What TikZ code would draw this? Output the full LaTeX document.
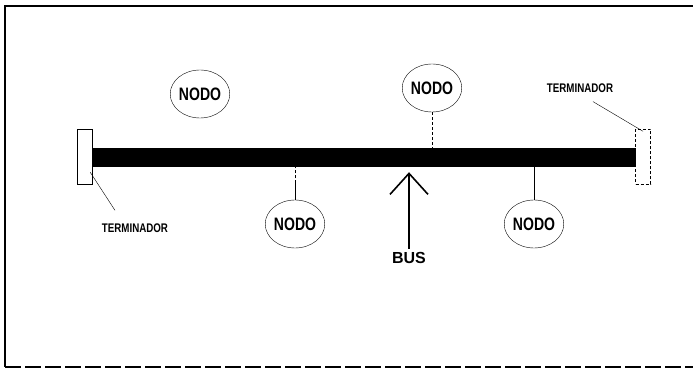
\documentclass[tikz,border=0pt]{standalone}
\usepackage{fontspec}
\setmainfont{Liberation Sans}
\newfontfamily\nodofont{Liberation Sans}[FakeStretch=0.78]
\usepackage{tikz}
\usetikzlibrary{shapes.geometric,arrows.meta,positioning,calc}

\begin{document}
\begin{tikzpicture}[
    x=1pt, y=-1pt,
    nodo/.style={ellipse, draw, thin, minimum width=56pt, minimum height=48pt, inner sep=0pt,
                 font=\nodofont\bfseries\fontsize{18}{18}\selectfont},
    terminador/.style={draw, thin, minimum width=15pt, minimum height=55pt, inner sep=0pt},
    rotulo/.style={font=\nodofont\bfseries\fontsize{12.5}{13}\selectfont, inner sep=1pt},
    enlace/.style={thin},
]
  \useasboundingbox (0,0) rectangle (693,371);

  % marco
  \draw[line width=1.2pt] (693,6) -- (5,6) -- (5,367);
  \draw[line width=1.2pt, dash pattern=on 16pt off 4pt] (5,367) -- (693,367);

  % bus y terminadores
  \node[fill=black, minimum width=544pt, minimum height=19pt, inner sep=0pt] (bus) at (364,157.5) {};
  \node[terminador] (term1) at (84.5,156.5) {};
  \node[terminador, densely dashed] (term2) at (643,157) {};

  % nodos
  \node[nodo] (nodo1) at (200,94) {NODO};
  \node[nodo] (nodo2) at (432,88) {NODO};
  \node[nodo] (nodo3) at (295,224) {NODO};
  \node[nodo] (nodo4) at (534,224) {NODO};

  % conexiones al bus
  \draw[enlace, densely dashed] (nodo2.south) -- (nodo2.south |- bus.north);
  \coordinate (medio3) at ($(nodo3.north)!0.5!(nodo3.north |- bus.south)$);
  \draw[enlace] (nodo3.north) -- (medio3);
  \draw[enlace, densely dashed] (medio3) -- (nodo3.north |- bus.south);
  \draw[enlace] (nodo4.north) -- (nodo4.north |- bus.south);

  % rotulos
  \node[rotulo] (lbl1) at (135,228) {TERMINADOR};
  \node[rotulo] (lbl2) at (580,88) {TERMINADOR};
  \draw[enlace] ($(term1.south east)+(-2,-12)$) -- ($(lbl1.north)+(-20,-12)$);
  \draw[enlace] ($(lbl2.south)+(13,8)$) -- ($(term2.north)+(0,2)$);

  \node[font=\bfseries\fontsize{16}{16}\selectfont] (buslbl) at (409,258) {BUS};
  \coordinate (flecha) at ($(bus.south -| buslbl)+(0,5)$);
  \draw[line width=1.6pt, -{Straight Barb[length=21pt, width=38pt, line width=1.6pt]}]
    (buslbl.north) -- (flecha);
\end{tikzpicture}
\end{document}
